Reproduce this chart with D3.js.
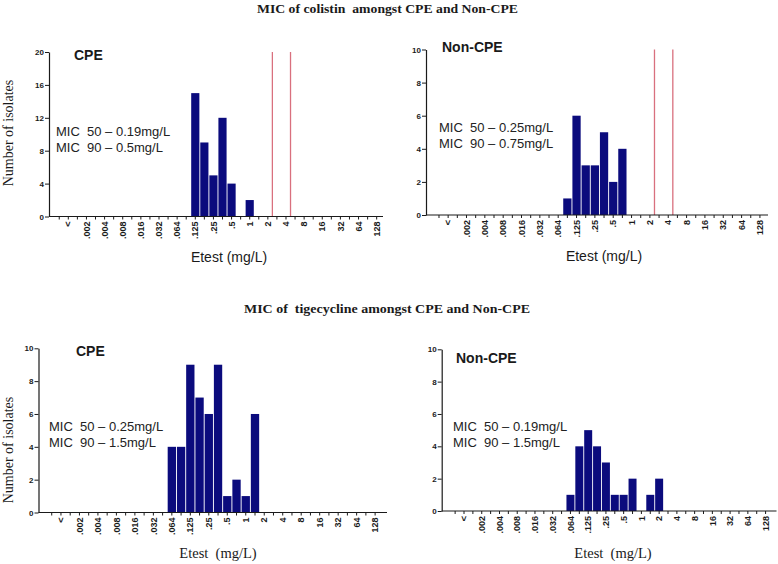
<!DOCTYPE html>
<html>
<head>
<meta charset="utf-8">
<script src="https://cdn.jsdelivr.net/npm/d3@7"></script>
<style>
  html, body { margin: 0; padding: 0; background: #fff; }
  svg { display: block; }
</style>
</head>
<body>
<svg id="chart" width="778" height="564"></svg>
<script>
// ---------- DATA ----------
// Etest MIC slots along the x axis (one slot per bar position)
const categories = ["pad", "<", "<b", ".002", ".003", ".004", ".006", ".008", ".012", ".016", ".023", ".032", ".047", ".064", ".094", ".125", ".19", ".25", ".38", ".5", ".75", "1", "1.5", "2", "3", "4", "6", "8", "12", "16", "24", "32", "48", "64", "96", "128"];
// Labelled ticks (others are drawn unlabeled)
const tickLabels = ["<", ".002", ".004", ".008", ".016", ".032", ".064", ".125", ".25", ".5", "1", "2", "4", "8", "16", "32", "64", "128"];

// MIC values that have isolates
const dataMics = [".064", ".094", ".125", ".19", ".25", ".38", ".5", ".75", "1", "1.5", "2"];
const colistinCPE    = [0, 0, 15, 9, 5, 12, 4, 0, 2, 0, 0];
const colistinNonCPE = [0, 1, 6, 3, 3, 5, 2, 4, 0, 0, 0];
const tigecyclineCPE    = [4, 4, 9, 7, 6, 9, 1, 2, 1, 6, 0];
const tigecyclineNonCPE = [1, 4, 5, 4, 3, 1, 1, 2, 0, 1, 2];

// Breakpoint marker lines (placed after these MIC slots)
const colistinBreakpoints = ["2", "4"];

const titles = ["MIC of colistin  amongst CPE and Non-CPE", "MIC of  tigecycline amongst CPE and Non-CPE"];
const groupLabels = ["CPE", "Non-CPE"];
const micTexts = [
  ["MIC  50 – 0.19mg/L", "MIC  90 – 0.5mg/L"],
  ["MIC  50 – 0.25mg/L", "MIC  90 – 0.75mg/L"],
  ["MIC  50 – 0.25mg/L", "MIC  90 – 1.5mg/L"],
  ["MIC  50 – 0.19mg/L", "MIC  90 – 1.5mg/L"]
];
const yMaxes = [20, 10, 10, 10];
const yStepsArr = [4, 2, 2, 2];
const xTitle = "Etest (mg/L)";
const yTitle = "Number of isolates";

// ---------- DRAW ----------
const svg = d3.select("#chart");
const SANS = "Arial, 'Liberation Sans', Helvetica, sans-serif";
const SERIF = "'Times New Roman', 'Liberation Serif', Times, serif";
const BAR = "#0b0b7d";
const RED = "#d9707e";
const INK = "#1a1a1a";

svg.append("text").attr("x", 387.5).attr("y", 12.5).attr("text-anchor", "middle")
  .attr("font-family", SERIF).attr("font-weight", "bold").attr("font-size", 12)
  .attr("textLength", 261).attr("lengthAdjust", "spacingAndGlyphs")
  .attr("fill", INK).style("white-space", "pre").text(titles[0]);
svg.append("text").attr("x", 387).attr("y", 313).attr("text-anchor", "middle")
  .attr("font-family", SERIF).attr("font-weight", "bold").attr("font-size", 12)
  .attr("textLength", 286).attr("lengthAdjust", "spacingAndGlyphs")
  .attr("fill", INK).style("white-space", "pre").text(titles[1]);

function drawPanel(cfg) {
  const g = svg.append("g");
  const counts = new Map(dataMics.map((m, i) => [m, cfg.values[i]]));

  const x = d3.scaleBand().domain(categories)
    .range([cfg.x0, cfg.x0 + categories.length * cfg.step])
    .paddingInner(0.1).paddingOuter(0.05);
  const y = d3.scaleLinear().domain([0, cfg.yMax]).range([cfg.yBottom, cfg.yTop]);

  // bars
  g.selectAll("rect.bar").data(dataMics.filter(m => counts.get(m) > 0))
    .join("rect").attr("class", "bar")
    .attr("x", d => x(d)).attr("width", x.bandwidth())
    .attr("y", d => y(counts.get(d)))
    .attr("height", d => y(0) - y(counts.get(d)))
    .attr("fill", BAR);

  // breakpoint lines
  (cfg.breaks || []).forEach(b => {
    const bx = x(b) + x.step() - (x.step() - x.bandwidth()) / 2;
    g.append("line").attr("x1", bx).attr("x2", bx)
      .attr("y1", y(cfg.yMax)).attr("y2", y(0))
      .attr("stroke", RED).attr("stroke-width", 1.3);
  });

  // x axis
  const xAxis = d3.axisBottom(x).tickSize(3).tickSizeOuter(0)
    .tickFormat(d => tickLabels.includes(d) ? d : "");
  const xg = g.append("g").attr("transform", `translate(0,${cfg.yBottom})`).call(xAxis);
  xg.select(".domain").remove();
  xg.append("line").attr("x1", cfg.axisX).attr("x2", cfg.xEnd).attr("y1", 0).attr("y2", 0)
    .attr("stroke", INK).attr("stroke-width", 1.2);
  xg.selectAll(".tick line").attr("stroke", INK);
  xg.selectAll(".tick text")
    .attr("transform", "rotate(-90)")
    .attr("text-anchor", "end")
    .attr("x", -5).attr("y", 0).attr("dy", "0.35em")
    .attr("font-family", SANS).attr("font-weight", "bold").attr("font-size", 9)
    .attr("fill", INK);

  // y axis
  const yAxis = d3.axisLeft(y).tickValues(d3.range(0, cfg.yMax + 0.001, cfg.yStep))
    .tickSize(4).tickSizeOuter(0).tickFormat(d3.format("d"));
  const yg = g.append("g").attr("transform", `translate(${cfg.axisX},0)`).call(yAxis);
  yg.select(".domain").attr("stroke", INK).attr("stroke-width", 1.2);
  yg.selectAll(".tick line").attr("stroke", INK);
  yg.selectAll(".tick text").attr("x", -5)
    .attr("font-family", SANS).attr("font-weight", "bold").attr("font-size", 8)
    .attr("fill", INK);

  // group label
  g.append("text").attr("x", cfg.labelX).attr("y", cfg.labelY)
    .attr("font-family", SANS).attr("font-weight", "bold").attr("font-size", 14)
    .attr("fill", INK).text(cfg.label);

  // MIC annotations
  cfg.mic.forEach((t, i) => {
    g.append("text").attr("x", cfg.micX).attr("y", cfg.micY + i * 16)
      .attr("font-family", SANS).attr("font-size", 13).attr("fill", "#222")
      .style("white-space", "pre").text(t);
  });

  // x title
  g.append("text").attr("x", cfg.etestX).attr("y", cfg.etestY).attr("text-anchor", "middle")
    .attr("font-family", cfg.etestSerif ? SERIF : SANS).attr("font-size", cfg.etestSerif ? 14.5 : 14)
    .attr("fill", INK).style("white-space", "pre").text(cfg.etestSerif ? "Etest  (mg/L)" : xTitle);

  // y title
  if (cfg.yTitleY) {
    g.append("text").attr("transform", `translate(13,${cfg.yTitleY}) rotate(-90)`)
      .attr("text-anchor", "middle").attr("font-family", SERIF).attr("font-size", 14)
      .attr("fill", INK).text(yTitle);
  }
}

drawPanel({ values: colistinCPE, yMax: yMaxes[0], yStep: yStepsArr[0],
  axisX: 49, x0: 54.7, step: 9.07, xEnd: 383, yTop: 52, yBottom: 216.5,
  breaks: colistinBreakpoints, label: groupLabels[0], labelX: 74, labelY: 60,
  mic: micTexts[0], micX: 56, micY: 136, etestX: 229, etestY: 262, yTitleY: 133 });

drawPanel({ values: colistinNonCPE, yMax: yMaxes[1], yStep: yStepsArr[1],
  axisX: 426, x0: 434.4, step: 9.17, xEnd: 768, yTop: 49.5, yBottom: 215,
  breaks: colistinBreakpoints, label: groupLabels[1], labelX: 442, labelY: 52,
  mic: micTexts[1], micX: 439, micY: 132, etestX: 604, etestY: 261 });

drawPanel({ values: tigecyclineCPE, yMax: yMaxes[2], yStep: yStepsArr[2],
  axisX: 38.5, x0: 47.1, step: 9.24, xEnd: 387, yTop: 348.3, yBottom: 512.5,
  label: groupLabels[0], labelX: 76, labelY: 356,
  mic: micTexts[2], micX: 49, micY: 431, etestX: 218, etestY: 558, etestSerif: true, yTitleY: 450 });

drawPanel({ values: tigecyclineNonCPE, yMax: yMaxes[3], yStep: yStepsArr[3],
  axisX: 441.7, x0: 450.7, step: 8.87, xEnd: 776.5, yTop: 349.3, yBottom: 511,
  label: groupLabels[1], labelX: 456, labelY: 363,
  mic: micTexts[3], micX: 453, micY: 431, etestX: 613, etestY: 558, etestSerif: true });
</script>
</body>
</html>
